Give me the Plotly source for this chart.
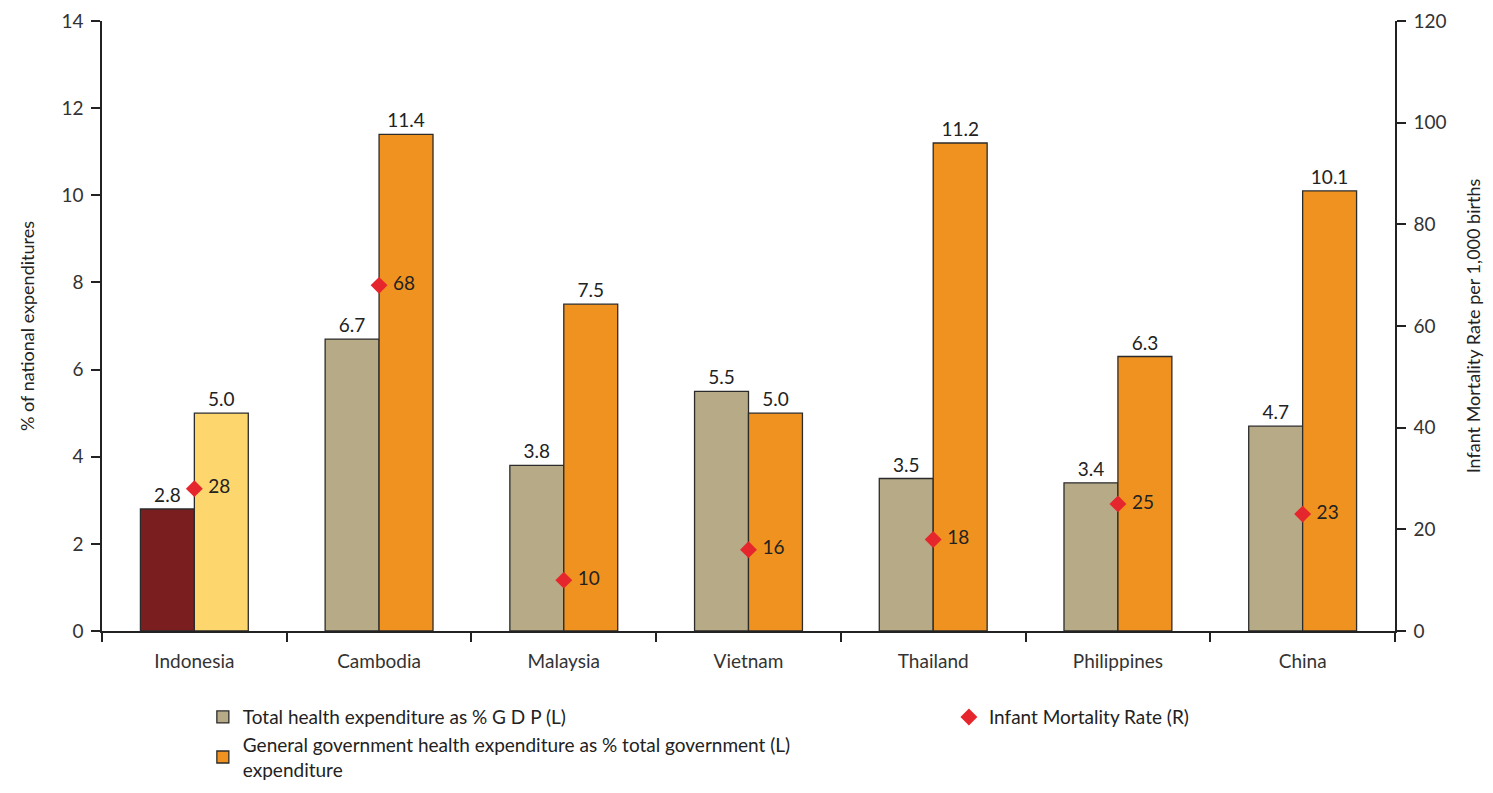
import plotly.graph_objects as go

countries = ["Indonesia", "Cambodia", "Malaysia", "Vietnam", "Thailand", "Philippines", "China"]
total_health_gdp = [2.8, 6.7, 3.8, 5.5, 3.5, 3.4, 4.7]
gov_health_share = [5.0, 11.4, 7.5, 5.0, 11.2, 6.3, 10.1]
infant_mortality = [28, 68, 10, 16, 18, 25, 23]

name_gdp = "Total health expenditure as % G D P (L)"
name_gov = "General government health expenditure as % total government (L)<br>expenditure"
name_imr = "Infant Mortality Rate (R)"

KHAKI = "#B6AB86"
ORANGE = "#F0921F"
DARKRED = "#7A1E20"
YELLOW = "#FDD66E"
RED = "#E5262D"
EDGE = "#2b2b2b"
FONT = "Lato"
FS = 19

W = 0.292
fig = go.Figure()

def bar(xs, ys, color, name, offset, show):
    fig.add_trace(go.Bar(
        x=xs, y=ys, name=name, width=W, offset=offset,
        marker=dict(color=color, line=dict(color=EDGE, width=1.3)),
        text=[f"{v:.1f}" for v in ys], textposition="outside",
        textfont=dict(size=FS, color="#222", family=FONT),
        cliponaxis=False, showlegend=show, legend="legend",
    ))

bar(countries[:1], total_health_gdp[:1], DARKRED, name_gdp, -W, False)
bar(countries[1:], total_health_gdp[1:], KHAKI, name_gdp, -W, True)
bar(countries[:1], gov_health_share[:1], YELLOW, name_gov, 0, False)
bar(countries[1:], gov_health_share[1:], ORANGE, name_gov, 0, True)

fig.add_trace(go.Scatter(
    x=countries, y=infant_mortality, yaxis="y2", name=name_imr, mode="markers+text",
    marker=dict(symbol="diamond", size=13, color=RED),
    text=[" " + str(v) for v in infant_mortality], textposition="middle right",
    textfont=dict(size=FS, color="#222", family=FONT),
    legend="legend2", cliponaxis=False,
))

axis_common = dict(showline=True, linecolor="#222", linewidth=1.5, ticks="outside",
                   ticklen=9, tickcolor="#222", tickwidth=1.5,
                   tickfont=dict(size=FS, color="#333", family=FONT), showgrid=False, zeroline=False)

fig.update_layout(
    width=1493, height=793,
    margin=dict(l=102, r=98, t=21, b=162, autoexpand=False),
    plot_bgcolor="white", paper_bgcolor="white",
    barmode="overlay",
    font=dict(family=FONT, size=FS, color="#222"),
    xaxis=dict(**axis_common, range=[-0.5, 6.5], tickson="boundaries", type="category",
               ticklabelstandoff=12),
    yaxis=dict(**axis_common, range=[0, 14], dtick=2, ticklabelstandoff=4,
               title=dict(text="% of national expenditures", font=dict(size=18, color="#222"), standoff=22)),
    yaxis2=dict(**axis_common, range=[0, 120], dtick=20, overlaying="y", side="right", ticklabelstandoff=4,
                title=dict(text="Infant Mortality Rate per 1,000 births", font=dict(size=18, color="#222"), standoff=22)),
    legend=dict(x=0.078, y=-0.11, xanchor="left", yanchor="top", orientation="v",
                font=dict(size=FS, color="#222"), bgcolor="rgba(0,0,0,0)", itemwidth=30, tracegroupgap=2),
    legend2=dict(x=0.655, y=-0.11, xanchor="left", yanchor="top", orientation="v",
                 font=dict(size=FS, color="#222"), bgcolor="rgba(0,0,0,0)"),
)

fig.write_html("out.html")
